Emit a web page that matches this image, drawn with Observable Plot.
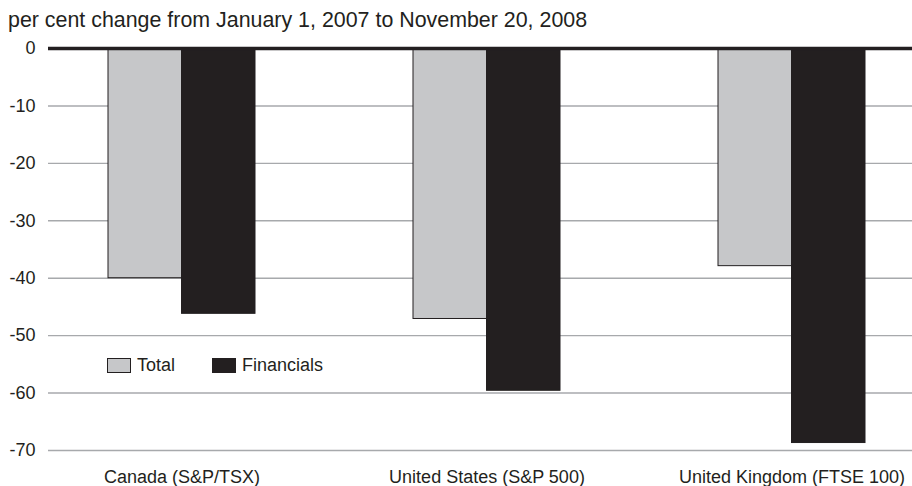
<!DOCTYPE html>
<html>
<head>
<meta charset="utf-8">
<script src="https://cdn.jsdelivr.net/npm/d3@7"></script>
<script src="https://cdn.jsdelivr.net/npm/@observablehq/plot@0.6"></script>
<style>
  html, body { margin: 0; padding: 0; background: #fff; }
  body { width: 912px; height: 486px; position: relative; overflow: hidden;
         font-family: "Liberation Sans", Arial, sans-serif; color: #231f20; }
  #title { height: 36px; box-sizing: border-box; padding: 9.5px 0 0 8px;
           font-size: 21.4px; line-height: 21px; white-space: nowrap; }
  #legend { position: absolute; left: 107px; top: 357px; font-size: 18px; line-height: 16px;
            display: flex; align-items: center; }
  .sw { display: inline-block; width: 22px; height: 13px; border: 1px solid #231f20; box-sizing: content-box; }
  .item { display: flex; align-items: center; }
</style>
</head>
<body>
<div id="title">per cent change from January 1, 2007 to November 20, 2008</div>
<div id="chart"></div>
<div id="legend"></div>
<script>
const countries = ["Canada (S&P/TSX)", "United States (S&P 500)", "United Kingdom (FTSE 100)"];
const seriesNames = ["Total", "Financials"];
const totalValues = [-40.0, -47.1, -37.9];
const financialsValues = [-46.2, -59.6, -68.7];
const yTicks = [0, -10, -20, -30, -40, -50, -60, -70];
const colors = ["#c6c7c9", "#231f20"];

const totalData = countries.map((c, i) => ({country: c, series: "Total", value: totalValues[i]}));
const finData = countries.map((c, i) => ({country: c, series: "Financials", value: financialsValues[i]}));

const W = 912, H = 450, ML = 48, MR = 0;
const pIn = 0.519, pOut = 0.173, align = 0.555;
const step = (W - ML - MR) / (countries.length - pIn + 2 * pOut);
const bw = step * (1 - pIn);
const half = bw / 2;

const chart = Plot.plot({
  width: W,
  height: H,
  marginTop: 12,
  marginBottom: 36,
  marginLeft: ML,
  marginRight: MR,
  style: {fontFamily: "Liberation Sans, Arial, sans-serif", fontSize: "18px", color: "#231f20", background: "#fff"},
  x: {domain: countries, paddingInner: pIn, paddingOuter: pOut, align: align, label: null},
  y: {domain: [-70, 0], label: null},
  color: {domain: seriesNames, range: colors},
  marks: [
    Plot.ruleY(yTicks.filter(d => d !== 0), {stroke: "#a7a9ac", strokeWidth: 1.4}),
    Plot.barY(totalData, {x: "country", y: "value", fill: "series", stroke: "#231f20", strokeWidth: 1, insetRight: half}),
    Plot.barY(finData, {x: "country", y: "value", fill: "series", stroke: "#231f20", strokeWidth: 1, insetLeft: half}),
    Plot.ruleY([0], {stroke: "#231f20", strokeWidth: 3.5}),
    Plot.axisY({ticks: yTicks, tickSize: 0, tickPadding: 13, tickFormat: d => `${d}`, label: null, fontSize: 18, fill: "#231f20"}),
    Plot.axisX({tickSize: 0, tickPadding: 20, label: null, fontSize: 18, fill: "#231f20"})
  ]
});
document.getElementById("chart").appendChild(chart);

const legend = document.getElementById("legend");
seriesNames.forEach((s, i) => {
  const item = document.createElement("div");
  item.className = "item";
  item.style.marginRight = i === 0 ? "37px" : "0";
  const sw = document.createElement("span");
  sw.className = "sw";
  sw.style.background = colors[i];
  sw.style.marginRight = "6px";
  const t = document.createElement("span");
  t.textContent = s;
  item.appendChild(sw);
  item.appendChild(t);
  legend.appendChild(item);
});
</script>
</body>
</html>
